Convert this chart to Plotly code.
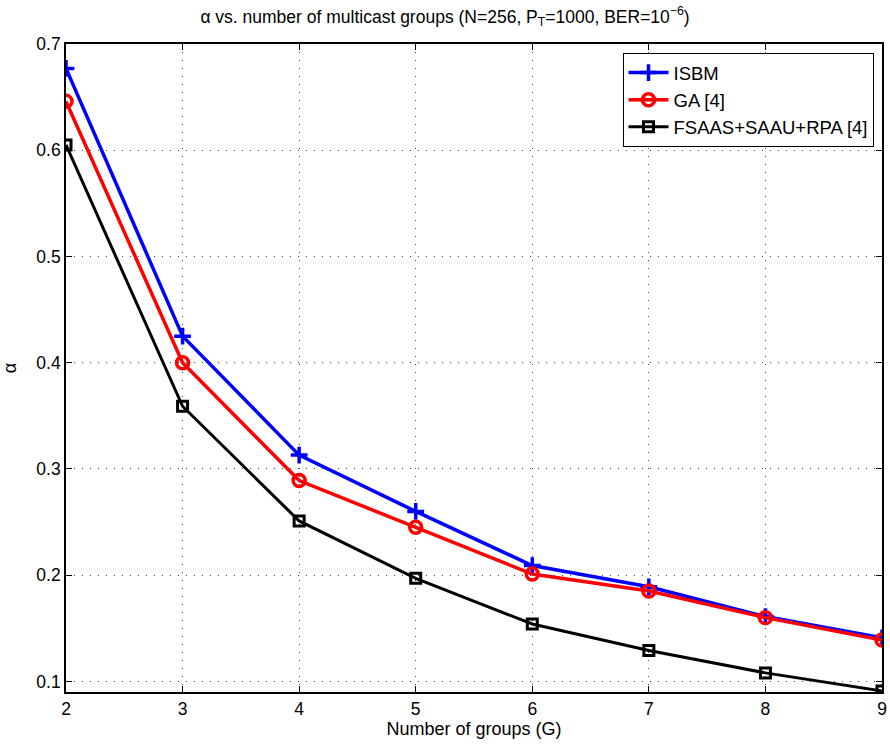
import plotly.graph_objects as go

groups = [2, 3, 4, 5, 6, 7, 8, 9]
isbm = [0.677, 0.425, 0.313, 0.260, 0.209, 0.189, 0.161, 0.141]
ga = [0.646, 0.400, 0.289, 0.245, 0.201, 0.185, 0.160, 0.139]
fsaas = [0.605, 0.359, 0.251, 0.197, 0.154, 0.129, 0.108, 0.091]
names = ["ISBM", "GA [4]", "FSAAS+SAAU+RPA [4]"]
xticks = [2, 3, 4, 5, 6, 7, 8, 9]
yticks = [0.1, 0.2, 0.3, 0.4, 0.5, 0.6, 0.7]

FONT = "Liberation Sans, Arial, Helvetica, sans-serif"

fig = go.Figure()
fig.add_trace(go.Scatter(x=groups, y=isbm, name=names[0], mode="lines+markers",
                         line=dict(color="#0000ff", width=3.5),
                         marker=dict(symbol="cross-thin-open", size=12, color="#0000ff",
                                     line=dict(color="#0000ff", width=3.5))))
fig.add_trace(go.Scatter(x=groups, y=ga, name=names[1], mode="lines+markers",
                         line=dict(color="#ff0000", width=3.5),
                         marker=dict(symbol="circle-open", size=12, color="#ff0000",
                                     line=dict(color="#ff0000", width=3.5))))
fig.add_trace(go.Scatter(x=groups, y=fsaas, name=names[2], mode="lines+markers",
                         line=dict(color="#000000", width=3),
                         marker=dict(symbol="square-open", size=10, color="#000000",
                                     line=dict(color="#000000", width=3))))

axis_common = dict(showline=True, linecolor="black", linewidth=1.6, mirror="ticks",
                   ticks="inside", ticklen=6, tickcolor="black", tickwidth=1,
                   showgrid=True, gridcolor="#444444", griddash="1px,7px", gridwidth=1,
                   zeroline=False, ticklabeloverflow="allow",
                   tickfont=dict(family=FONT, size=17.5, color="black"))

fig.update_layout(
    width=890, height=749,
    margin=dict(l=66, r=3, t=44, b=57),
    paper_bgcolor="white", plot_bgcolor="white",
    title=dict(text="α vs. number of multicast groups (N=256, P<sub>T</sub>=1000, BER=10<sup>−6</sup>)",
               x=0.5, xanchor="center", y=0.978, yanchor="middle",
               font=dict(family=FONT, size=17.5, color="black")),
    xaxis=dict(range=[2, 9], tickvals=xticks, ticktext=[str(v) for v in xticks],
               title=dict(text="Number of groups (G)", standoff=2,
                          font=dict(family=FONT, size=18, color="black")),
               **axis_common),
    yaxis=dict(range=[0.09, 0.7], tickvals=yticks, ticktext=[f"{v:.1f}" for v in yticks],
               title=dict(text="α", standoff=16, font=dict(family=FONT, size=18, color="black")),
               **axis_common),
    legend=dict(x=0.682, y=0.986, xanchor="left", yanchor="top",
                bgcolor="white", bordercolor="black", borderwidth=1,
                font=dict(family=FONT, size=18.5, color="black"),
                tracegroupgap=0, itemwidth=40),
    showlegend=True,
)

fig.write_html("out.html")
